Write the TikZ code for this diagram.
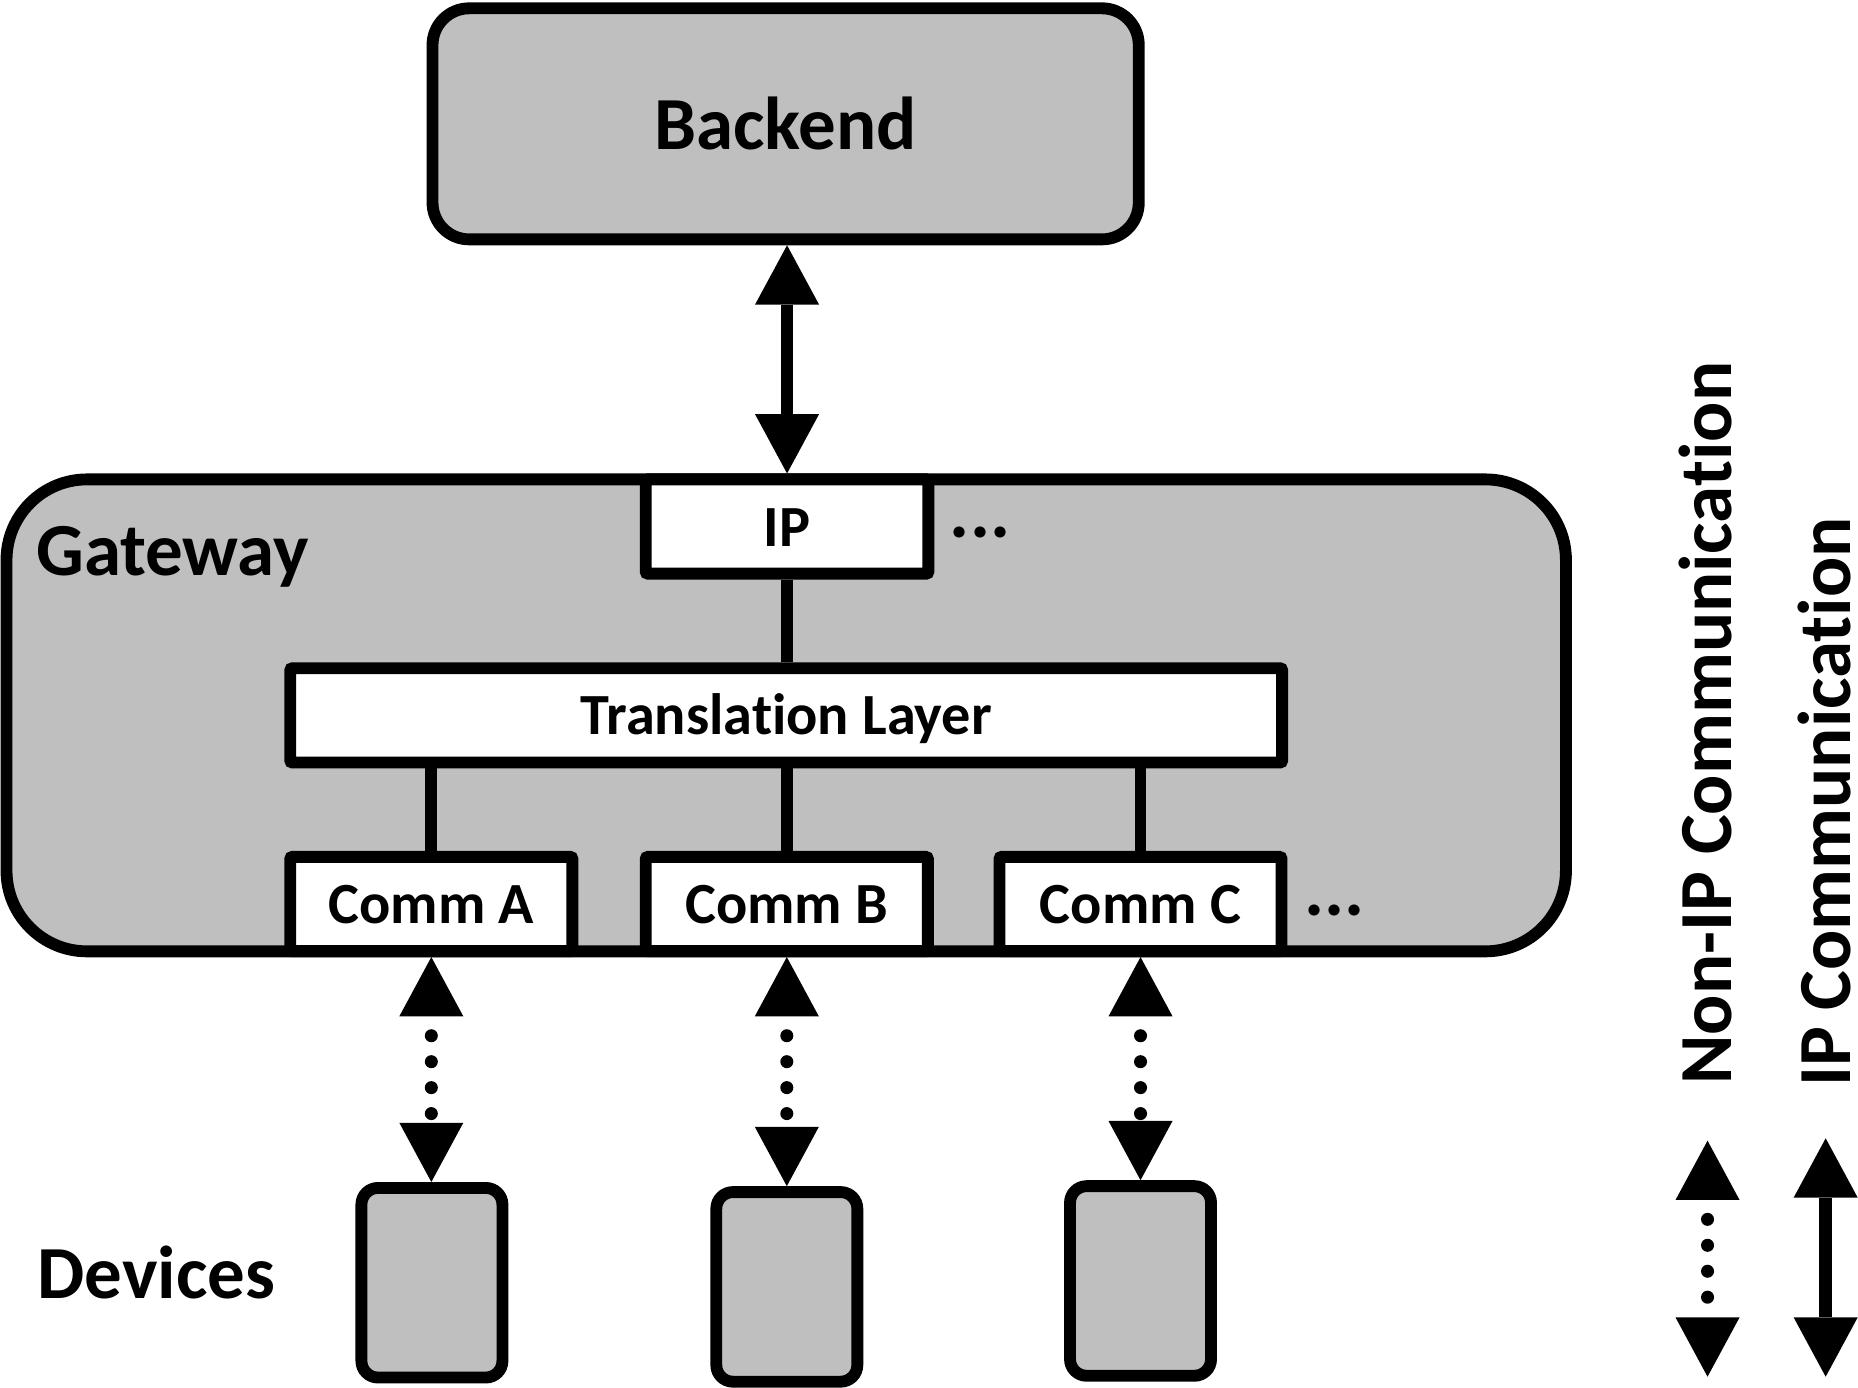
\documentclass[tikz,border=0pt]{standalone}
\usepackage{xcolor}
\usepackage{fontspec}
\setmainfont{Carlito}[Ligatures = NoCommon]
\usepackage{tikz}
\usetikzlibrary{calc}
\usetikzlibrary{arrows.meta}
\usetikzlibrary{positioning}
\definecolor{boxgray}{RGB}{191,191,191}
\tikzset{>=latex}
\tikzset{bigtip/.tip = {Triangle[width = 0.54cm, length = 0.5cm, line width = 0pt]}}
\newcommand{\bigfont}{\bfseries\fontsize{18}{21}\selectfont}
\newcommand{\smallfont}{\bfseries\fontsize{14}{16}\selectfont}
\tikzstyle{block} = [draw, line width = 0.1cm, fill = boxgray, inner sep = 0, font = \bigfont]
\tikzstyle{layer} = [draw, line width = 0.1cm, fill = white, inner sep = 0, rounded corners = 0.5pt, minimum height = 0.795cm, text height = 0.33cm, text depth = 0pt, font = \smallfont]
\tikzstyle{device} = [draw, line width = 0.1cm, fill = boxgray, rounded corners = 0.14cm, minimum width = 1.19cm, minimum height = 1.6cm]
\tikzstyle{heading} = [draw = none, inner sep = 0, font = \bigfont]
\tikzstyle{wire} = [-, line width = 0.1cm]
\tikzstyle{iplink} = [bigtip-bigtip, line width = 0.105cm]
\tikzstyle{noniplink} = [bigtip-bigtip, line width = 0.11cm, line cap = round, dash pattern = on 0pt off 0.219cm, dash phase = 0.055cm]

\begin{document}
\begin{tikzpicture}[y = -1cm]
\useasboundingbox (0, 0) rectangle (15.68, 11.71);
\node [block, rounded corners = 0.31cm, minimum width = 5.96cm, minimum height = 1.95cm] (Backend) at (6.63, 1.045) {Backend};
\node [block, rounded corners = 0.68cm, minimum width = 13.16cm, minimum height = 3.983cm] (Gateway) at (6.635, 6.037) {};
\node [heading, anchor = base west] (GatewayLabel) at (0.3, 4.86) {Gateway};
\node [layer, minimum width = 2.385cm] (IP) at (6.642, 4.443) {IP};
\node [layer, minimum width = 8.37cm] (Translation) at (6.635, 6.037) {Translation Layer};
\node [layer, minimum width = 2.38cm] (CommA) at (3.64, 7.629) {Comm A};
\node [layer, minimum width = 2.38cm] (CommB) at (6.64, 7.629) {Comm B};
\node [layer, minimum width = 2.38cm] (CommC) at (9.625, 7.629) {Comm C};
\node [heading, anchor = base west] (IPMore) at (8.01, 4.537) {...};
\node [heading, anchor = base west] (CommMore) at (11.0, 7.73) {...};
\node [device] (DevA) at (3.645, 10.825) {};
\node [device] (DevB) at (6.64, 10.86) {};
\node [device] (DevC) at (9.625, 10.81) {};
\node [heading, anchor = base west] (Devices) at (0.31, 10.96) {Devices};
\draw [iplink] (IP.north |- Backend.south) to (IP.north);
\draw [wire] (IP.south) to (IP.south |- Translation.north);
\foreach \c in {A, B, C}
  \draw [wire] (Comm\c.north |- Translation.south) to (Comm\c.north);
\foreach \c in {A, B, C}
  \draw [noniplink] (Comm\c.south) to (Comm\c.south |- Dev\c.north);
\coordinate (NonIPTop) at (14.41, 9.626);
\coordinate (NonIPBottom) at (14.41, 11.618);
\coordinate (IPTop) at (15.407, 9.606);
\coordinate (IPBottom) at (15.407, 11.618);
\draw [noniplink] (NonIPTop) to (NonIPBottom);
\draw [iplink] (IPTop) to (IPBottom);
\node [heading, rotate = 90, anchor = base west] (NonIPText) at (14.614, 9.16) {Non-IP Communication};
\node [heading, rotate = 90, anchor = base west] (IPText) at (15.62, 9.18) {IP Communication};
\end{tikzpicture}
\end{document}
